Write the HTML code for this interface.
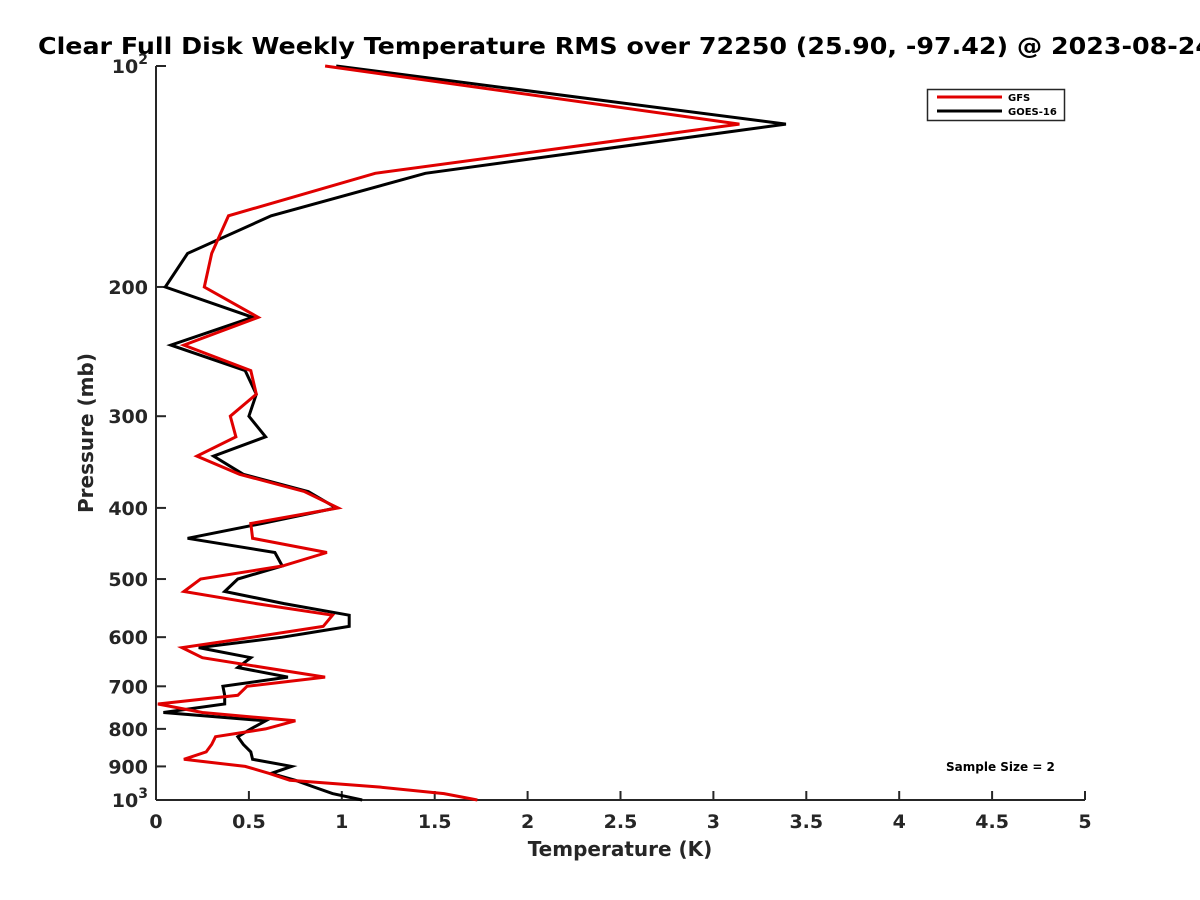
<!DOCTYPE html>
<html><head><meta charset="utf-8"><style>
html,body{margin:0;padding:0;background:#fff;overflow:hidden;}
svg{display:block;font-family:"DejaVu Sans","Liberation Sans",sans-serif;}
</style></head><body>
<svg id="chart" width="1200" height="900" viewBox="0 0 1200 900">
<text x="38" y="54" font-size="23" font-weight="bold" fill="#000" textLength="1175" lengthAdjust="spacingAndGlyphs">Clear Full Disk Weekly Temperature RMS over 72250 (25.90, -97.42) @ 2023-08-24</text>
<g id="axes"></g>
<g id="series"></g>
<text x="620" y="856" font-size="20" font-weight="bold" fill="#262626" text-anchor="middle">Temperature (K)</text>
<text transform="translate(93,433) rotate(-90)" font-size="20" font-weight="bold" fill="#262626" text-anchor="middle">Pressure (mb)</text>
<g>
<rect x="927.5" y="89.5" width="137" height="31" fill="#fff" stroke="#262626" stroke-width="1.5"/>
<line x1="937" y1="97" x2="1002" y2="97" stroke="#e00000" stroke-width="3"/>
<text x="1008" y="101" font-size="10" font-weight="bold" fill="#000">GFS</text>
<line x1="937" y1="111" x2="1002" y2="111" stroke="#000" stroke-width="3"/>
<text x="1008" y="115" font-size="10" font-weight="bold" fill="#000">GOES-16</text>
</g>
<text x="946" y="771" font-size="12" font-weight="bold" fill="#000">Sample Size = 2</text>
</svg>
<script>
const pressures = [100,120,140,160,180,200,220,240,260,280,300,320,340,360,380,400,420,440,460,480,500,520,540,560,580,600,620,640,660,680,700,720,740,760,780,800,820,840,860,880,900,920,940,960,980,1000];
const gfsRms = [0.91,3.14,1.18,0.39,0.30,0.26,0.55,0.15,0.51,0.54,0.40,0.43,0.22,0.45,0.80,0.98,0.51,0.52,0.92,0.68,0.24,0.15,0.54,0.95,0.90,0.52,0.14,0.25,0.58,0.91,0.49,0.44,0.01,0.25,0.75,0.59,0.32,0.30,0.27,0.15,0.48,0.61,0.72,1.20,1.55,1.73];
const goesRms = [0.97,3.39,1.45,0.62,0.17,0.05,0.52,0.08,0.48,0.54,0.50,0.59,0.31,0.47,0.82,0.97,0.57,0.17,0.64,0.68,0.44,0.37,0.69,1.04,1.04,0.68,0.23,0.51,0.44,0.71,0.36,0.37,0.37,0.04,0.59,0.51,0.44,0.47,0.51,0.52,0.73,0.62,0.75,0.85,0.95,1.11];
const xTicks = [0,0.5,1,1.5,2,2.5,3,3.5,4,4.5,5];
const xTickLabels = ["0","0.5","1","1.5","2","2.5","3","3.5","4","4.5","5"];
const yTicks = [100,200,300,400,500,600,700,800,900,1000];
const yTickLabels = ["10^2","200","300","400","500","600","700","800","900","10^3"];

const X0=156,X1=1085,Y0=66,Y1=800;
function xs(v){return X0+(v-0)/(5-0)*(X1-X0);}
function ys(p){return Y0+(Math.log10(p)-2)/(3-2)*(Y1-Y0);}
const NS="http://www.w3.org/2000/svg";
function mk(tag,attrs,parent){const e=document.createElementNS(NS,tag);for(const k in attrs)e.setAttribute(k,attrs[k]);parent.appendChild(e);return e;}
const axes=document.getElementById('axes');
const series=document.getElementById('series');

const ya=mk('line',{x1:X0,y1:Y0,x2:X0,y2:Y1,stroke:'#262626','stroke-width':2},axes);


const xa=mk('line',{x1:X0,y1:Y1,x2:X1,y2:Y1,stroke:'#262626','stroke-width':2},axes);



xTicks.forEach((v,i)=>{
  const x=xs(v);
  const t=mk('line',{x1:x,y1:Y1,x2:x,y2:Y1-9,stroke:'#262626','stroke-width':2},axes);
  
  
  const l=mk('text',{x:x,y:Y1+28,'font-size':19,'font-weight':'bold',fill:'#262626','text-anchor':'middle'},axes);
  l.textContent=xTickLabels[i];
  
  
});
yTicks.forEach((p,i)=>{
  const y=ys(p);
  const t=mk('line',{x1:X0,y1:y,x2:X0+10,y2:y,stroke:'#262626','stroke-width':2},axes);
  
  
  const lab=yTickLabels[i];
  const l=mk('text',{x:X0-8,y:y+7,'font-size':19,'font-weight':'bold',fill:'#262626','text-anchor':'end'},axes);
  if(lab.indexOf('^')>=0){
    const parts=lab.split('^');
    l.textContent=parts[0];
    const s=mk('tspan',{dy:-9,'font-size':14},l);
    s.textContent=parts[1];
  } else l.textContent=lab;
  
  
});

function drawLine(vals,color,name){
  const pts=vals.map((v,i)=>xs(v).toFixed(1)+','+ys(pressures[i]).toFixed(1)).join(' ');
  const pl=mk('polyline',{points:pts,fill:'none',stroke:color,'stroke-width':3,'stroke-linejoin':'miter'},series);
  
  
}
drawLine(goesRms,'#000','goes-16-line');
drawLine(gfsRms,'#e00000','gfs-line');
</script>
</body></html>
